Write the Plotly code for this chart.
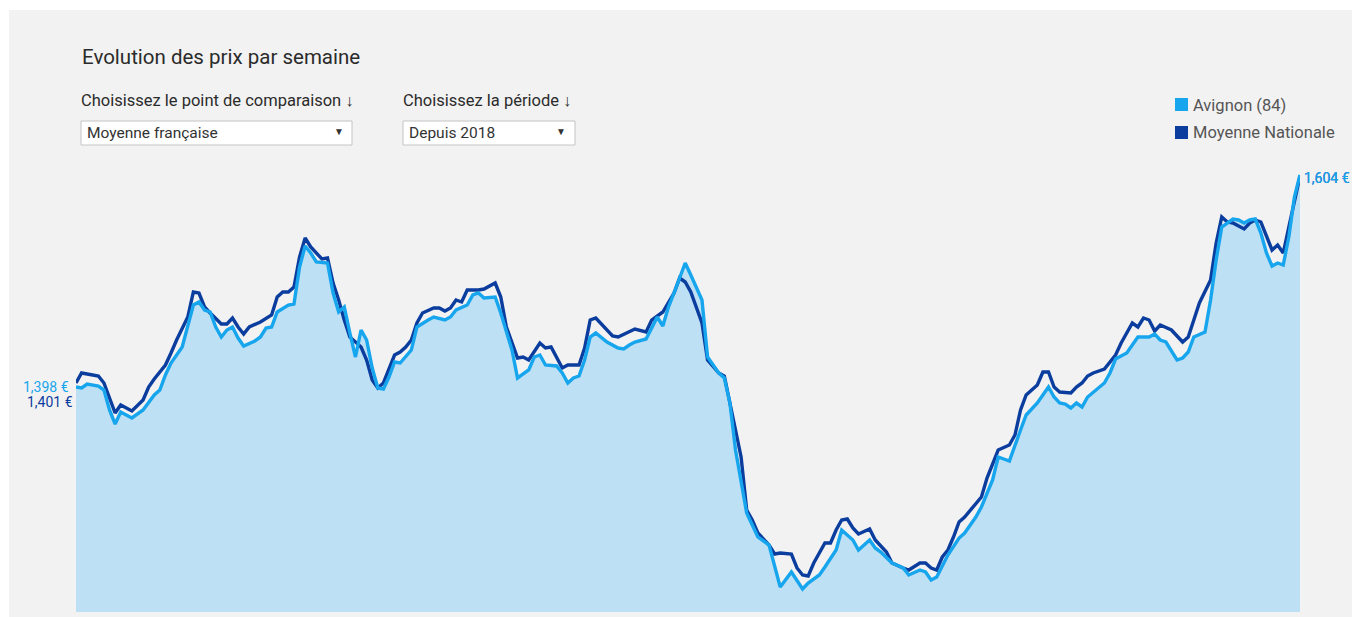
import plotly.graph_objects as go

# ---------------- data (weekly index since first week of 2018, price in EUR/L) -------------
weeks_avignon = [0, 1, 2, 4, 5, 6, 7, 8, 10, 12, 14, 15, 16, 17, 19, 20, 21, 22, 23, 24,
                 25, 26, 27, 28, 29, 30, 32, 33, 34, 35, 36, 38, 39, 40, 41, 42, 43, 45, 46, 47,
                 48, 49, 50, 51, 52, 53, 54, 55, 56, 57, 58, 60, 61, 63, 64, 66, 67, 68, 70, 71,
                 72, 73, 75, 76, 78, 79, 81, 82, 83, 84, 86, 87, 88, 89, 90, 91, 92, 93, 95, 97,
                 98, 99, 100, 102, 104, 105, 106, 107, 109, 110, 112, 113, 115, 116, 117, 118, 120, 121, 122, 124,
                 125, 126, 128, 129, 130, 131, 133, 134, 136, 137, 139, 140, 142, 143, 144, 146, 148, 149, 151, 152,
                 153, 154, 156, 158, 159, 161, 162, 164, 165, 166, 167, 169, 170, 172, 174, 175, 176, 177, 178, 179,
                 180, 181, 182, 184, 185, 186, 188, 189, 190, 192, 193, 194, 195, 197, 198, 199, 200, 202, 203, 204,
                 205, 207, 208, 209, 210, 211, 212, 213, 214, 215, 216, 217, 218, 219]
prix_avignon = [1.396, 1.395, 1.399, 1.397, 1.393, 1.373, 1.359, 1.371, 1.365, 1.373, 1.388, 1.393, 1.408, 1.420, 1.436, 1.456, 1.478, 1.481, 1.473, 1.471,
                1.456, 1.446, 1.453, 1.456, 1.445, 1.437, 1.442, 1.446, 1.455, 1.456, 1.471, 1.478, 1.479, 1.516, 1.537, 1.530, 1.521, 1.520, 1.490, 1.471,
                1.476, 1.450, 1.426, 1.453, 1.443, 1.415, 1.395, 1.394, 1.406, 1.421, 1.420, 1.433, 1.456, 1.463, 1.466, 1.463, 1.466, 1.473, 1.478, 1.488,
                1.490, 1.485, 1.486, 1.470, 1.433, 1.405, 1.413, 1.426, 1.428, 1.418, 1.417, 1.410, 1.400, 1.405, 1.407, 1.423, 1.446, 1.450, 1.441, 1.435,
                1.434, 1.438, 1.441, 1.444, 1.466, 1.457, 1.476, 1.490, 1.520, 1.508, 1.483, 1.426, 1.410, 1.405, 1.380, 1.333, 1.270, 1.258, 1.246, 1.238,
                1.216, 1.196, 1.211, 1.203, 1.194, 1.200, 1.208, 1.216, 1.233, 1.253, 1.243, 1.233, 1.243, 1.235, 1.231, 1.220, 1.215, 1.208, 1.213, 1.211,
                1.203, 1.206, 1.228, 1.245, 1.250, 1.266, 1.276, 1.303, 1.326, 1.324, 1.322, 1.353, 1.368, 1.380, 1.396, 1.386, 1.380, 1.379, 1.375, 1.380,
                1.376, 1.386, 1.391, 1.400, 1.410, 1.424, 1.430, 1.438, 1.446, 1.446, 1.449, 1.443, 1.441, 1.423, 1.425, 1.431, 1.446, 1.451, 1.483, 1.523,
                1.556, 1.564, 1.563, 1.560, 1.563, 1.564, 1.550, 1.530, 1.517, 1.520, 1.518, 1.546, 1.586, 1.608]

weeks_nationale = [0, 1, 2, 4, 5, 6, 7, 8, 10, 12, 13, 14, 16, 17, 18, 20, 21, 22, 23, 24,
                   26, 27, 28, 29, 30, 31, 33, 35, 36, 37, 38, 39, 40, 41, 42, 44, 45, 46, 47, 48,
                   49, 51, 52, 53, 54, 55, 56, 57, 58, 59, 60, 61, 62, 64, 65, 66, 67, 68, 69, 70,
                   72, 73, 75, 76, 77, 79, 80, 81, 83, 84, 85, 86, 87, 88, 90, 91, 92, 93, 95, 96,
                   97, 99, 100, 102, 103, 105, 107, 108, 109, 110, 112, 113, 115, 116, 117, 119, 120, 121, 122, 124,
                   125, 126, 128, 129, 130, 131, 132, 134, 135, 136, 137, 138, 139, 140, 142, 143, 145, 146, 148, 149,
                   151, 152, 153, 154, 155, 156, 157, 158, 159, 161, 162, 163, 165, 167, 168, 169, 170, 172, 173, 174,
                   175, 176, 178, 179, 180, 181, 182, 184, 186, 187, 189, 190, 191, 192, 193, 194, 196, 198, 199, 200,
                   201, 203, 204, 205, 206, 207, 209, 210, 211, 212, 213, 214, 215, 216, 217, 218, 219]
prix_nationale = [1.400, 1.410, 1.409, 1.407, 1.400, 1.386, 1.370, 1.378, 1.372, 1.383, 1.396, 1.404, 1.418, 1.430, 1.443, 1.466, 1.491, 1.490, 1.476, 1.470,
                  1.459, 1.459, 1.465, 1.456, 1.449, 1.456, 1.461, 1.468, 1.486, 1.491, 1.491, 1.496, 1.526, 1.545, 1.536, 1.524, 1.525, 1.500, 1.483, 1.463,
                  1.446, 1.436, 1.423, 1.403, 1.395, 1.400, 1.415, 1.428, 1.431, 1.436, 1.443, 1.460, 1.470, 1.475, 1.475, 1.472, 1.475, 1.483, 1.481, 1.493,
                  1.493, 1.494, 1.500, 1.486, 1.456, 1.425, 1.426, 1.423, 1.440, 1.435, 1.436, 1.426, 1.415, 1.418, 1.418, 1.435, 1.463, 1.465, 1.453, 1.447,
                  1.446, 1.451, 1.454, 1.451, 1.463, 1.471, 1.490, 1.505, 1.501, 1.491, 1.460, 1.423, 1.410, 1.407, 1.380, 1.326, 1.273, 1.263, 1.250, 1.238,
                  1.229, 1.230, 1.229, 1.215, 1.208, 1.207, 1.220, 1.240, 1.240, 1.253, 1.263, 1.264, 1.255, 1.249, 1.254, 1.243, 1.231, 1.220, 1.215, 1.213,
                  1.220, 1.220, 1.215, 1.213, 1.226, 1.233, 1.246, 1.261, 1.266, 1.280, 1.286, 1.305, 1.333, 1.338, 1.348, 1.373, 1.388, 1.398, 1.411, 1.411,
                  1.396, 1.391, 1.390, 1.396, 1.400, 1.407, 1.410, 1.414, 1.428, 1.440, 1.460, 1.456, 1.465, 1.463, 1.452, 1.458, 1.453, 1.441, 1.446, 1.463,
                  1.480, 1.503, 1.540, 1.566, 1.561, 1.560, 1.554, 1.560, 1.563, 1.561, 1.546, 1.533, 1.538, 1.530, 1.556, 1.583, 1.607]

series_names = ["Avignon (84)", "Moyenne Nationale"]
label_start = ["1,398 €", "1,401 €"]
label_end = ["1,604 €", "1,604 €"]
title_text = "Evolution des prix par semaine"
control_labels = ["Choisissez le point de comparaison ↓", "Choisissez la période ↓"]
control_values = ["Moyenne française", "Depuis 2018"]

# ---------------- styling ----------------
OFF = 8                      # browser default body margin
W, H = 1360 - OFF, 617 - OFF
PL, PR, PT, PB = 76, 1300, 160, 612   # plot area in (screen) pixels
C_LIGHT = "#17a6ee"
C_DARK = "#0b3d9e"
C_FILL = "#bde0f5"
C_BG = "#f2f2f2"
FONT = "Roboto"


def px(x):
    return (x - PL) / (PR - PL)


def py(y):
    return (PB - y) / (PB - PT)


fig = go.Figure()
fig.add_trace(go.Scatter(x=weeks_avignon, y=prix_avignon, mode="none", fill="tozeroy",
                         fillcolor=C_FILL, hoverinfo="skip", showlegend=False))
fig.add_trace(go.Scatter(x=weeks_nationale, y=prix_nationale, mode="lines", name=series_names[1],
                         line=dict(color=C_DARK, width=3.4), showlegend=False))
fig.add_trace(go.Scatter(x=weeks_avignon, y=prix_avignon, mode="lines", name=series_names[0],
                         line=dict(color=C_LIGHT, width=3.4), showlegend=False))

shapes = [
    # grey panel
    dict(type="rect", xref="paper", yref="paper", x0=px(9), x1=px(1360), y0=py(620), y1=py(10),
         fillcolor=C_BG, line=dict(width=0), layer="below"),
    # dropdown boxes
    dict(type="rect", xref="paper", yref="paper", x0=px(81), x1=px(352), y0=py(145), y1=py(121),
         fillcolor="white", line=dict(color="#c4c4c4", width=1)),
    dict(type="rect", xref="paper", yref="paper", x0=px(403), x1=px(575), y0=py(145), y1=py(121),
         fillcolor="white", line=dict(color="#c4c4c4", width=1)),
    # legend swatches
    dict(type="rect", xref="paper", yref="paper", x0=px(1175), x1=px(1188), y0=py(111), y1=py(98),
         fillcolor=C_LIGHT, line=dict(width=0)),
    dict(type="rect", xref="paper", yref="paper", x0=px(1175), x1=px(1188), y0=py(139), y1=py(126),
         fillcolor=C_DARK, line=dict(width=0)),
]


def ann(text, x, y, size, color, xanchor="left", yanchor="middle", **kw):
    return dict(text=text, x=px(x), y=py(y), xref="paper", yref="paper", showarrow=False,
                xanchor=xanchor, yanchor=yanchor, font=dict(family=FONT, size=size, color=color), **kw)


annotations = [
    ann(title_text, 80, 57, 20.5, "#2b2b2b"),
    ann(control_labels[0], 79, 100, 16.5, "#2b2b2b"),
    ann(control_labels[1], 401, 100, 16.5, "#2b2b2b"),
    ann(control_values[0], 85, 133, 15.5, "#333333"),
    ann(control_values[1], 407, 133, 15.5, "#333333"),
    ann("▼", 339, 132, 10, "#333333", xanchor="center"),
    ann("▼", 561, 132, 10, "#333333", xanchor="center"),
    ann(series_names[0], 1191, 105, 16.5, "#555555"),
    ann(series_names[1], 1191, 133, 16.5, "#555555"),
    ann(label_start[0], 71, 387, 14, C_LIGHT, xanchor="right"),
    ann(label_start[1], 75, 402, 14, C_DARK, xanchor="right"),
    ann(label_end[1], 1302, 178, 14, C_DARK),
    ann(label_end[0], 1302, 178, 14, C_LIGHT),
]

fig.update_layout(
    width=W, height=H, autosize=False,
    margin=dict(l=PL - OFF, r=(W + OFF) - PR, t=PT - OFF, b=(H + OFF) - PB, pad=0),
    paper_bgcolor="white", plot_bgcolor=C_BG,
    xaxis=dict(range=[0, 219], visible=False, fixedrange=True),
    yaxis=dict(range=[1.171, 1.623], visible=False, fixedrange=True),
    shapes=shapes, annotations=annotations, showlegend=False,
    hovermode="x unified",
)

fig.write_html("out.html", config={"displayModeBar": False})
